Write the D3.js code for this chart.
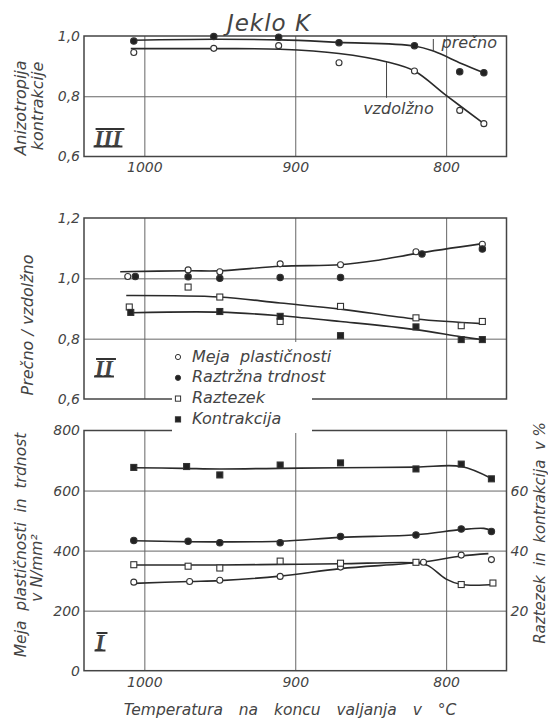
<!DOCTYPE html>
<html>
<head>
<meta charset="utf-8" />
<title>Jeklo K</title>
<script src="https://d3js.org/d3.v7.min.js"></script>
<style>
  body { margin: 0; background: #fff; }
  svg text { font-family: "DejaVu Sans", sans-serif; font-style: italic; fill: #444; white-space: pre; }
  .grid line { stroke: #666; stroke-width: 1; }
  .grid path { display: none; }
  .lbl path, .lbl line { display: none; }
  .curve { fill: none; stroke: #2a2a2a; stroke-width: 1.6; }
</style>
</head>
<body>
<div id="chart"></div>
<script>
// ---- panel III: anizotropija kontrakcije ----
var precnoIII_T = [1007, 954, 911, 871, 821, 791, 775];
var precnoIII = [0.983, 0.998, 0.996, 0.978, 0.968, 0.881, 0.878];
var vzdolznoIII_T = [1007, 954, 911, 871, 821, 791, 775];
var vzdolznoIII = [0.945, 0.959, 0.968, 0.911, 0.884, 0.753, 0.709];
// hand drawn fit lines
var precnoFit_T = [1007, 954, 910, 871, 821, 808, 790, 775];
var precnoFit = [0.986, 0.989, 0.987, 0.979, 0.967, 0.949, 0.909, 0.878];
var vzdolznoFit_T = [1009, 954, 910, 871, 839, 821, 800, 775];
var vzdolznoFit = [0.958, 0.958, 0.956, 0.942, 0.914, 0.884, 0.803, 0.709];

// ---- panel II: precno / vzdolzno ----
var mejaII_T = [1011, 971, 950, 910, 870, 820, 776];
var mejaII = [1.006, 1.028, 1.022, 1.048, 1.045, 1.088, 1.113];
var trdnostII_T = [1006, 971, 950, 910, 870, 816, 776];
var trdnostII = [1.006, 1.005, 1.0, 1.003, 1.003, 1.081, 1.097];
var raztezekII_T = [1010, 971, 950, 910, 870, 820, 790, 776];
var raztezekII = [0.905, 0.971, 0.938, 0.857, 0.907, 0.869, 0.843, 0.857];
var kontrakcijaII_T = [1009, 950, 910, 870, 820, 790, 776];
var kontrakcijaII = [0.887, 0.89, 0.874, 0.81, 0.839, 0.797, 0.797];
var fitTopII_T = [1016, 971, 950, 910, 870, 845, 820, 776];
var fitTopII = [1.022, 1.025, 1.025, 1.04, 1.045, 1.06, 1.082, 1.115];
var fitMidII_T = [1012, 950, 910, 870, 820, 776];
var fitMidII = [0.943, 0.938, 0.918, 0.898, 0.865, 0.85];
var fitLowII_T = [1009, 950, 910, 870, 820, 790, 776];
var fitLowII = [0.886, 0.888, 0.876, 0.857, 0.83, 0.806, 0.797];

// ---- panel I: absolute values ----
var mejaI_T = [1007, 970, 950, 910, 870, 815, 790, 770];
var mejaI = [295, 297, 301, 314, 345, 361, 385, 370];            // N/mm2
var trdnostI_T = [1007, 971, 950, 910, 870, 820, 790, 770];
var trdnostI = [434, 431, 426, 426, 447, 452, 472, 464];         // N/mm2
var raztezekI_T = [1007, 971, 950, 910, 870, 820, 790, 769];
var raztezekI = [35.3, 34.8, 34.2, 36.5, 35.8, 36.1, 28.7, 29.2]; // %
var kontrakcijaI_T = [1007, 972, 950, 910, 870, 820, 790, 770];
var kontrakcijaI = [67.7, 68.0, 65.2, 68.5, 69.2, 67.2, 68.8, 63.9]; // %
var mejaFitI_T = [1007, 970, 950, 910, 870, 817, 790, 772];
var mejaFitI = [291, 297, 300, 315, 340, 361, 382, 390];
var trdnostFitI_T = [1007, 950, 910, 870, 820, 790, 775, 770];
var trdnostFitI = [433, 429, 431, 444, 453, 470, 474, 467];
var raztezekFitI_T = [1007, 950, 910, 870, 820, 812, 800, 790, 767];
var raztezekFitI = [35.2, 35.2, 35.4, 35.6, 35.9, 35.0, 30.5, 28.7, 28.7];
var kontrakcijaFitI_T = [1007, 975, 950, 910, 870, 820, 790, 770];
var kontrakcijaFitI = [67.6, 67.4, 67.2, 67.4, 67.6, 67.8, 68.0, 64.0];

var tempTicks = [1000, 900, 800];
var legendNames = ["Meja  plastičnosti", "Raztržna trdnost", "Raztezek", "Kontrakcija"];
var legendMarks = ["oc", "fc", "os", "fs"];

var W = 548, H = 718, L = 84, R = 506.5;

var svg = d3.select("#chart").append("svg")
    .attr("width", W)
    .attr("height", H);

var x = d3.scaleLinear().domain([1040, 760]).range([L, R]);

var yIII = d3.scaleLinear().domain([0.6, 1.0]).range([156.5, 36]);
var yII = d3.scaleLinear().domain([0.6, 1.2]).range([399, 218]);
var yI = d3.scaleLinear().domain([0, 800]).range([670.7, 430.5]);
var yIr = d3.scaleLinear().domain([0, 80]).range([670.7, 430.5]);

var comma = function(d) { return d3.format(".1f")(d).replace(".", ","); };

function zip(ts, vs) {
    return ts.map(function(t, i) { return [t, vs[i]]; });
}

function styleTicks(sel) {
    sel.selectAll("text").style("font-size", "14px").style("font-family", "DejaVu Sans").attr("fill", "#555");
}

function panel(y, hGrid, yTicks, fmt, xLabels) {
    var top = y.range()[1], bot = y.range()[0];
    var g = svg.append("g");
    g.append("g").attr("class", "grid")
        .attr("transform", "translate(0," + bot + ")")
        .call(d3.axisBottom(x).tickValues(tempTicks).tickSize(-(bot - top)).tickFormat(""));
    g.append("g").attr("class", "grid")
        .attr("transform", "translate(" + L + ",0)")
        .call(d3.axisLeft(y).tickValues(hGrid).tickSize(-(R - L)).tickFormat(""));
    g.append("rect")
        .attr("x", L).attr("y", top)
        .attr("width", R - L).attr("height", bot - top)
        .style("fill", "none").style("stroke", "#444").style("stroke-width", 1.5);
    var ya = g.append("g").attr("class", "lbl")
        .attr("transform", "translate(" + L + ",0)")
        .call(d3.axisLeft(y).tickValues(yTicks).tickSize(0).tickPadding(4).tickFormat(fmt));
    styleTicks(ya);
    if (xLabels) {
        var xa = g.append("g").attr("class", "lbl")
            .attr("transform", "translate(0," + bot + ")")
            .call(d3.axisBottom(x).tickValues(tempTicks).tickSize(0).tickPadding(6).tickFormat(d3.format("d")));
        styleTicks(xa);
    }
    return g;
}

function fit(g, y, ts, vs) {
    var line = d3.line()
        .x(function(d) { return x(d[0]); })
        .y(function(d) { return y(d[1]); })
        .curve(d3.curveCatmullRom.alpha(0.5));
    g.append("path").attr("class", "curve").attr("d", line(zip(ts, vs)));
}

function marks(g, y, ts, vs, kind, size) {
    size = size || 3.2;
    var pts = zip(ts, vs);
    var sel = g.append("g").selectAll("g").data(pts).enter();
    if (kind == "oc" || kind == "fc") {
        sel.append("circle")
            .attr("cx", function(d) { return x(d[0]); })
            .attr("cy", function(d) { return y(d[1]); })
            .attr("r", size)
            .style("fill", kind == "fc" ? "#222" : "#fff")
            .style("stroke", "#333").style("stroke-width", 1.1);
    } else {
        sel.append("rect")
            .attr("x", function(d) { return x(d[0]) - size; })
            .attr("y", function(d) { return y(d[1]) - size; })
            .attr("width", size * 2).attr("height", size * 2)
            .style("fill", kind == "fs" ? "#222" : "#fff")
            .style("stroke", "#333").style("stroke-width", 1.1);
    }
}

// roman numeral with bars above and below
function roman(txt, px, py) {
    var t = svg.append("text")
        .attr("x", px).attr("y", py + 8)
        .attr("text-anchor", "middle")
        .style("font-family", "Liberation Serif")
        .style("font-size", "23px")
        .style("font-weight", "bold")
        .attr("fill", "#333")
        .text(txt);
    var w = t.node().getComputedTextLength();
    [py - 9, py + 8.5].forEach(function(yy, i) {
        svg.append("line")
            .attr("x1", px - w / 2 - 1 + (i == 0 ? 2 : 0)).attr("x2", px + w / 2 + 1 + (i == 0 ? 2 : 0))
            .attr("y1", yy).attr("y2", yy)
            .style("stroke", "#333").style("stroke-width", 2);
    });
}

function vlabel(txt, px, py, size) {
    svg.append("text")
        .attr("transform", "translate(" + px + "," + py + ") rotate(-90)")
        .attr("text-anchor", "middle")
        .attr("dominant-baseline", "middle")
        .style("font-size", size + "px")
        .text(txt);
}

// title
svg.append("text")
    .attr("x", 269).attr("y", 31)
    .attr("text-anchor", "middle")
    .style("font-size", "23px")
    .style("letter-spacing", "1px")
    .attr("fill", "#3a3a3a")
    .text("Jeklo K");

// ---------- panel III ----------
var g3 = panel(yIII, [0.8], [0.6, 0.8, 1.0], comma, true);
fit(g3, yIII, precnoFit_T, precnoFit);
fit(g3, yIII, vzdolznoFit_T, vzdolznoFit);
marks(g3, yIII, precnoIII_T, precnoIII, "fc");
marks(g3, yIII, vzdolznoIII_T, vzdolznoIII, "oc", 3);
g3.append("line")
    .attr("x1", x(808.5)).attr("x2", x(808.5))
    .attr("y1", yIII(0.99)).attr("y2", yIII(0.948))
    .style("stroke", "#444");
g3.append("text").attr("x", x(803)).attr("y", yIII(0.96))
    .style("font-size", "16px").text("prečno");
g3.append("line")
    .attr("x1", x(839.5)).attr("x2", x(839.5))
    .attr("y1", yIII(0.914)).attr("y2", yIII(0.795))
    .style("stroke", "#444");
g3.append("text").attr("x", x(855)).attr("y", yIII(0.74))
    .style("font-size", "16px").text("vzdolžno");
roman("III", 108, 138);
vlabel("Anizotropija", 21, 108, 16);
vlabel("kontrakcije", 38, 106, 16);

// ---------- panel II ----------
var g2 = panel(yII, [0.8, 1.0], [0.6, 0.8, 1.0, 1.2], comma, false);
fit(g2, yII, fitTopII_T, fitTopII);
fit(g2, yII, fitMidII_T, fitMidII);
fit(g2, yII, fitLowII_T, fitLowII);
marks(g2, yII, mejaII_T, mejaII, "oc", 3);
marks(g2, yII, trdnostII_T, trdnostII, "fc");
marks(g2, yII, raztezekII_T, raztezekII, "os", 3);
marks(g2, yII, kontrakcijaII_T, kontrakcijaII, "fs", 3);
roman("II", 104, 368);
vlabel("Prečno / vzdolžno", 28, 325, 16);

// ---------- panel I ----------
var g1 = panel(yI, [200, 400, 600], [0, 200, 400, 600, 800], d3.format("d"), true);
var yr = g1.append("g").attr("class", "lbl")
    .attr("transform", "translate(" + R + ",0)")
    .call(d3.axisRight(yIr).tickValues([20, 40, 60]).tickSize(0).tickPadding(4));
styleTicks(yr);
fit(g1, yIr, kontrakcijaFitI_T, kontrakcijaFitI);
fit(g1, yI, trdnostFitI_T, trdnostFitI);
fit(g1, yI, mejaFitI_T, mejaFitI);
fit(g1, yIr, raztezekFitI_T, raztezekFitI);
marks(g1, yIr, kontrakcijaI_T, kontrakcijaI, "fs", 3);
marks(g1, yI, trdnostI_T, trdnostI, "fc");
marks(g1, yI, mejaI_T, mejaI, "oc", 3);
marks(g1, yIr, raztezekI_T, raztezekI, "os", 3);
roman("I", 100, 642);
vlabel("Meja  plastičnosti  in  trdnost", 21, 545, 15.5);
vlabel("v N/mm²", 37, 568, 15.5);
vlabel("Raztezek  in  kontrakcija  v %", 540, 533, 15);

svg.append("text")
    .attr("x", 290).attr("y", 715)
    .attr("text-anchor", "middle")
    .style("font-size", "15.5px")
    .style("word-spacing", "3px")
    .text("Temperatura  na  koncu  valjanja  v  °C");

// ---------- legend (covers the gap between panels) ----------
svg.append("rect")
    .attr("x", 172).attr("y", 342)
    .attr("width", 140).attr("height", 91)
    .style("fill", "#fff");
var leg = svg.append("g").selectAll("g").data(legendNames).enter().append("g")
    .attr("transform", function(d, i) { return "translate(178," + (357 + i * 20.8) + ")"; });
leg.each(function(d, i) {
    var k = legendMarks[i], s = d3.select(this);
    if (k == "oc" || k == "fc") {
        s.append("circle").attr("r", 2.6)
            .style("fill", k == "fc" ? "#222" : "#fff").style("stroke", "#333");
    } else {
        s.append("rect").attr("x", -2.6).attr("y", -2.6).attr("width", 5.2).attr("height", 5.2)
            .style("fill", k == "fs" ? "#222" : "#fff").style("stroke", "#333");
    }
});
leg.append("text")
    .attr("x", 14).attr("dominant-baseline", "middle")
    .style("font-size", "16px")
    .text(function(d) { return d; });
</script>
</body>
</html>
